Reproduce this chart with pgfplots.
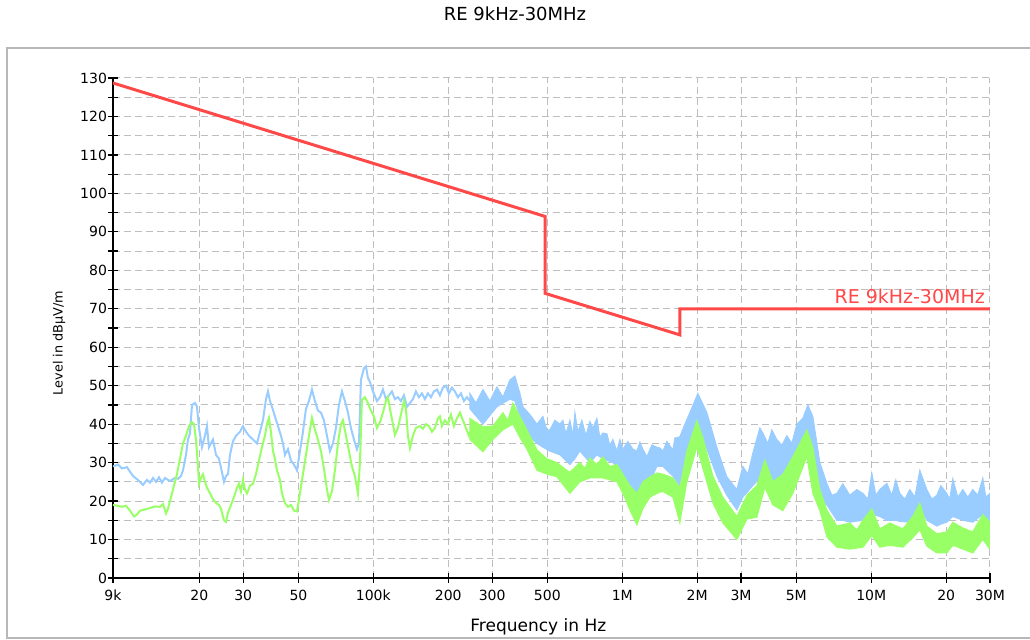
\documentclass[border=0pt]{standalone}
\usepackage{pgfplots}
\pgfplotsset{compat=1.18}
\usepackage{pgfplotstable}
\usepackage{fontspec}
\setmainfont{DejaVu Sans}
\definecolor{pkblue}{RGB}{153,204,255}
\definecolor{avgreen}{RGB}{153,255,102}
\definecolor{limred}{RGB}{255,72,72}
\definecolor{gridgray}{RGB}{190,190,190}

% lf = log10(frequency in Hz), dB = level in dBuV/m
\pgfplotstableread{
lf dB
3.9542 29
3.9743 29.5
3.9903 28.5
4.0104 28.8
4.0345 26.5
4.0546 25.5
4.0747 24.2
4.0907 25.5
4.1028 24.8
4.1148 26
4.1269 25
4.1389 26.2
4.1510 24.8
4.1630 26
4.1831 25.2
4.2032 26
4.2152 25.8
4.2273 26.5
4.2353 28
4.2474 32
4.2554 36
4.2634 37.5
4.2715 45
4.2835 45.5
4.2916 44.5
4.2996 39
4.3116 34
4.3237 37
4.3317 39.5
4.3397 34
4.3478 35
4.3558 36
4.3679 32
4.3799 31
4.3920 27.5
4.4000 25
4.4080 26.5
4.4161 27
4.4241 32
4.4361 35.5
4.4482 37
4.4642 38
4.4763 39.5
4.4883 38
4.5004 37
4.5165 36
4.5325 35
4.5446 38
4.5566 41
4.5687 46.5
4.5767 48.5
4.5847 46
4.5928 44.5
4.6048 42
4.6169 39.5
4.6289 37
4.6369 35
4.6450 32
4.6570 33.5
4.6691 30.5
4.6811 29.5
4.6932 28
4.7052 33
4.7173 38
4.7293 44
4.7414 46
4.7534 49
4.7655 46
4.7775 43.5
4.7895 43
4.8016 41
4.8136 37
4.8257 33
4.8377 35
4.8498 39
4.8618 45
4.8739 48.5
4.8859 46
4.8980 43
4.9100 39
4.9221 36
4.9341 33.5
4.9422 35
4.9502 51.5
4.9622 54.5
4.9703 55
4.9783 52
4.9863 51
4.9984 48.5
5.0145 46
5.0265 47
5.0385 49
5.0506 46.5
5.0626 47.5
5.0747 48.5
5.0867 46.5
5.0988 47
5.1108 46
5.1229 47.5
5.1349 44.5
5.1470 45.5
5.1590 46.5
5.1711 48.5
5.1831 47
5.1952 48
5.2072 46.5
5.2193 48
5.2313 47
5.2434 48.5
5.2554 49
5.2675 47.5
5.2795 49.5
5.2916 50
5.3036 48
5.3157 49.5
5.3277 48.5
5.3398 47
5.3518 48
5.3639 46
5.3759 47
5.3879 46
}\pkline

\pgfplotstableread{
lf dB
3.9542 19
3.9703 18.8
3.9903 18.5
4.0064 18.8
4.0225 17.5
4.0385 16
4.0506 16.5
4.0626 17.5
4.0827 17.8
4.1028 18.2
4.1229 18.6
4.1430 18.5
4.1550 19.2
4.1671 16.8
4.1751 18
4.1871 21
4.1992 24
4.2112 27
4.2233 31
4.2353 35
4.2474 37
4.2594 39.5
4.2715 40.5
4.2795 40
4.2875 36
4.2956 29
4.2996 24.5
4.3076 26
4.3156 27
4.3237 25
4.3317 23.5
4.3438 22
4.3558 20.5
4.3679 19.5
4.3799 19
4.3879 18
4.4000 15
4.4080 14.6
4.4161 17
4.4281 19
4.4401 21
4.4522 23.5
4.4602 24.5
4.4683 22.5
4.4763 25.5
4.4843 23
4.4924 22
4.5044 24
4.5165 24.5
4.5285 27
4.5406 30.5
4.5526 34
4.5646 37
4.5727 40
4.5807 41.6
4.5887 38
4.5968 33
4.6048 31
4.6128 28
4.6249 25.5
4.6329 22
4.6450 19.5
4.6570 18.5
4.6691 19
4.6811 17.5
4.6932 17.3
4.7052 22
4.7173 27
4.7293 32
4.7414 37
4.7534 41.6
4.7655 38.5
4.7775 36
4.7895 33
4.8016 28.5
4.8136 23
4.8217 20.3
4.8337 22.5
4.8458 28
4.8578 35
4.8699 40
4.8779 41
4.8900 37
4.9020 33
4.9140 29
4.9261 26.5
4.9381 22
4.9462 30
4.9542 46.3
4.9663 47
4.9783 45.5
4.9904 43.5
5.0024 42
5.0145 39
5.0265 40.5
5.0385 43
5.0506 46
5.0586 47
5.0667 44
5.0787 40
5.0867 37.2
5.0988 39
5.1108 42.5
5.1229 46
5.1309 44
5.1389 37
5.1470 33.8
5.1590 37
5.1711 39
5.1871 39.5
5.1992 38.8
5.2112 40
5.2233 39.5
5.2353 38
5.2474 39
5.2594 41.5
5.2675 42
5.2755 39.5
5.2875 41
5.2996 40
5.3116 42.5
5.3237 39.5
5.3357 41.5
5.3478 43
5.3598 41
5.3719 39
5.3839 37
5.3960 39
}\avline

% dense part of the peak trace: upper envelope (forward), then lower envelope (backward)
\pgfplotstableread{
lf dB
5.3879 48
5.4120 45.5
5.4402 49
5.4683 46
5.4964 49.7
5.5205 47
5.5486 51.5
5.5687 52.5
5.5888 48
5.6008 44.5
5.6289 42.5
5.6570 40
5.6811 42
5.6972 38.5
5.7092 38.5
5.7293 41
5.7494 40
5.7614 41
5.7735 37.5
5.7896 41
5.8016 37
5.8096 43
5.8217 38
5.8378 41
5.8538 37
5.8699 40.7
5.8819 39
5.8980 41.5
5.9100 36.5
5.9221 37.7
5.9382 37.5
5.9502 34.5
5.9622 36
5.9783 33
5.9904 36
6.0024 33.5
6.0225 35.5
6.0426 33.5
6.0586 33
6.0707 35.3
6.0827 33.5
6.0988 31.5
6.1189 34.6
6.1390 34
6.1510 33.8
6.1631 33
6.1791 35.5
6.2032 33.3
6.2112 36.4
6.2313 36.7
6.2514 40
6.2715 43
6.3036 48
6.3398 43
6.3799 34
6.4000 30
6.4201 26.3
6.4602 23
6.4843 29
6.5044 27
6.5245 32.5
6.5526 39
6.5647 37.7
6.5847 35
6.6008 38.5
6.6209 36
6.6410 34.5
6.6611 37
6.6811 35
6.7012 40
6.7253 41.5
6.7454 45
6.7655 42
6.7936 30
6.8217 24.6
6.8418 21.5
6.8619 22
6.8860 24.5
6.9141 21.5
6.9422 23
6.9663 22
6.9864 20.5
7.0024 27.3
7.0185 21.5
7.0345 23
7.0627 24.6
7.0827 21.5
7.0988 25.5
7.1149 22
7.1350 20.5
7.1550 23
7.1751 21
7.1952 28
7.2233 23
7.2434 20.5
7.2635 21.5
7.2795 24
7.3036 22
7.3157 20.5
7.3277 25.8
7.3478 21
7.3679 23
7.3880 21
7.4080 23
7.4281 21.5
7.4482 26
7.4603 21
7.4771 22
7.4771 15
7.4482 16.5
7.4080 14.5
7.3679 15
7.3277 16
7.3036 14.5
7.2795 14
7.2635 13.5
7.2233 15
7.1952 18.5
7.1550 14.5
7.1149 14.7
7.0988 15
7.0627 15
7.0345 16
7.0024 16.5
6.9663 15
6.9141 14.5
6.8860 15
6.8619 15
6.8217 19
6.7936 20
6.7655 31
6.7454 36.5
6.7012 29.5
6.6611 27
6.6209 25
6.5647 27
6.5526 26
6.5245 24
6.4843 21
6.4602 17.7
6.4201 21.5
6.3799 26.5
6.3398 33.5
6.3036 38.5
6.2715 33.5
6.2313 24
6.2032 26.5
6.1791 28
6.1631 29
6.1390 29
6.1108 25
6.0827 24.5
6.0586 21
6.0426 23
6.0225 25
6.0024 27
5.9622 30
5.9221 31
5.8980 32
5.8699 30
5.8297 33
5.8096 31
5.7896 29.5
5.7494 32
5.7092 33
5.6811 34
5.6570 35
5.6289 36.7
5.6008 40
5.5888 42
5.5687 46
5.5486 46.5
5.4964 44.5
5.4402 40
5.3879 44
}\pkband

% dense part of the average trace: upper envelope (forward), then lower envelope (backward)
\pgfplotstableread{
lf dB
5.3879 41.5
5.4402 39.3
5.4803 39.5
5.5205 43
5.5406 41
5.5606 45.5
5.5888 42
5.6169 38.5
5.6570 33.3
5.6972 31
5.7373 30
5.7775 28
5.7896 27.5
5.8297 30
5.8498 28.5
5.8699 31.2
5.8980 29.5
5.9221 31.5
5.9502 29
5.9783 29.5
6.0024 27
6.0305 24
6.0586 22
6.0827 25
6.1108 26.3
6.1390 27.3
6.1631 27
6.2032 26
6.2313 23.5
6.2594 33
6.2996 41
6.3237 36.5
6.3639 26.5
6.4040 21
6.4602 16
6.5004 21.5
6.5406 24
6.5727 30.7
6.6048 25
6.6450 27
6.6851 31.5
6.7414 38.5
6.7655 34
6.7936 23
6.8217 17.7
6.8619 13.5
6.9141 14.3
6.9422 12.5
6.9663 15
7.0024 18
7.0345 12.8
7.0747 14.3
7.1269 12.8
7.1671 16
7.1952 19.5
7.2233 13.5
7.2635 11.5
7.3036 12
7.3277 14.5
7.3679 13
7.4080 12
7.4482 16.5
7.4771 14.5
7.4771 7.5
7.4482 10
7.4080 6.5
7.3679 7.5
7.3277 8.5
7.3036 6.5
7.2635 6.5
7.2233 8.3
7.1952 12.5
7.1671 10.5
7.1269 8
7.0747 8.5
7.0345 8
7.0024 11
6.9663 8
6.9141 7.5
6.8619 8
6.8217 10.7
6.7936 17.5
6.7655 22
6.7414 31.5
6.6851 22
6.6450 17.5
6.6048 19
6.5727 23.5
6.5406 15.8
6.5004 15.3
6.4602 10
6.4040 14.3
6.3639 19.5
6.3237 28.5
6.2996 34
6.2594 25
6.2313 14.3
6.2032 21
6.1631 22.5
6.1390 22
6.1108 21
6.0827 18
6.0586 13.8
6.0305 17.7
6.0024 22
5.9783 25
5.9221 26
5.8699 26
5.8297 25
5.7896 22
5.7775 23
5.7373 26.3
5.6972 27
5.6570 28
5.6169 33.5
5.5888 36.5
5.5606 40
5.5205 38.5
5.4803 36
5.4402 32.8
5.3879 36
}\avband

\begin{document}
\begin{tikzpicture}
\draw[black!28, line width=1pt] (3.25pt,0.75pt) rectangle (530pt,295.75pt);
\node[font=\fontsize{9}{10}\selectfont] at (257.5pt,313pt) {RE 9kHz-30MHz};
\begin{axis}[
  at={(56.5pt,31pt)}, anchor=south west,
  scale only axis, width=438.5pt, height=250pt,
  xmin=3.9542, xmax=7.4771, ymin=0, ymax=130,
  axis lines*=left,
  axis line style={black, line width=0.8pt},
  xtick={3.9542,4.3010,4.4771,4.6990,5,5.3010,5.4771,5.6990,6,6.3010,6.4771,6.6990,7,7.3010,7.4771},
  xticklabels={9k,20,30,50,100k,200,300,500,1M,2M,3M,5M,10M,20,30M},
  ytick={0,10,...,130},
  minor ytick={5,15,...,125},
  xmajorgrids, ymajorgrids, yminorgrids,
  grid style={gridgray, line width=0.5pt, dash pattern=on 3.5pt off 2pt},
  minor grid style={gridgray, line width=0.5pt, dash pattern=on 3.5pt off 2pt},
  tick align=center,
  major tick length=5pt, minor tick length=5pt,
  tick style={black, line width=0.6pt},
  tick label style={font=\fontsize{7}{8}\selectfont},
  yticklabel style={xshift=3pt},
  /pgf/number format/assume math mode=true,
  xlabel={Frequency in Hz},
  ylabel={Level in dBµV/m},
  xlabel style={font=\fontsize{8.5}{10}\selectfont, at={(axis description cs:0.485,-0.098)}, anchor=center},
  ylabel style={font=\fontsize{6.4}{7.5}\selectfont, at={(axis description cs:-0.0616,0.47)}, anchor=center},
]
\addplot[pkblue, line width=1pt] table[x=lf, y=dB] {\pkline};
\addplot[pkblue, fill=pkblue, line width=0.5pt] table[x=lf, y=dB] {\pkband} -- cycle;
\addplot[avgreen, line width=1pt] table[x=lf, y=dB] {\avline};
\addplot[avgreen, fill=avgreen, line width=0.5pt] table[x=lf, y=dB] {\avband} -- cycle;
\addplot[limred, line width=1.5pt] coordinates {(3.9542,128.7) (5.6902,94) (5.6902,74) (6.2317,63.2) (6.2317,70) (7.4771,70)};
\node[limred, font=\fontsize{9.5}{10}\selectfont, anchor=south east, inner sep=1pt] at (axis cs:7.466,70.6) {RE 9kHz-30MHz};
\end{axis}
\pgfresetboundingbox
\path[use as bounding box] (0pt,0pt) rectangle (515pt,320pt);
\end{tikzpicture}
\end{document}
